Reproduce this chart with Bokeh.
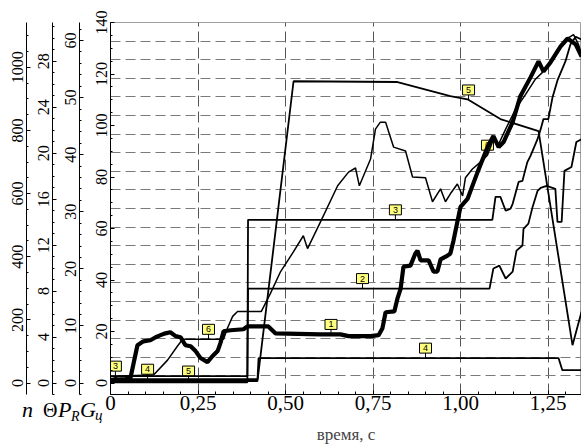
import numpy as np
from bokeh.plotting import figure
from bokeh.layouts import column
from bokeh.models import (Range1d, LinearAxis, FixedTicker, SingleIntervalTicker, Div)
from bokeh.embed import file_html
from bokeh.resources import INLINE

# ---------------- data ----------------
x_ticks = [0, 0.25, 0.5, 0.75, 1.0, 1.25]
x_tick_labels = ["0", "0,25", "0,50", "0,75", "1,00", "1,25"]
x_title = "время, с"

# series 1 (thick)
s1_t = [0, 0.043, 0.057, 0.066, 0.077, 0.094, 0.114, 0.129, 0.143, 0.157, 0.171, 0.186, 0.2, 0.214,
        0.229, 0.243, 0.257, 0.277, 0.291, 0.306, 0.314, 0.323, 0.343, 0.38, 0.391, 0.451, 0.471, 0.6,
        0.657, 0.68, 0.743, 0.766, 0.777, 0.786, 0.811, 0.82, 0.829, 0.837, 0.857, 0.871, 0.877, 0.886,
        0.909, 0.923, 0.934, 0.943, 0.963, 0.971, 0.98, 0.991, 1.0, 1.02, 1.049, 1.077, 1.094, 1.109,
        1.123, 1.149, 1.171, 1.2, 1.223, 1.237, 1.257, 1.286, 1.306, 1.329, 1.346]
s1_v = [1.2, 1.5, 1.9, 7.7, 14.7, 16.2, 16.6, 17.8, 18.6, 19.3, 19.7, 18.2, 17.8, 14.7,
        14.3, 12.4, 9.7, 8.1, 10.4, 12.4, 15.5, 20.1, 20.5, 20.9, 22.0, 22.0, 19.3, 18.9,
        18.9, 18.2, 18.2, 18.6, 21.3, 27.5, 27.8, 32.9, 36.7, 45.2, 45.6, 50.3, 51.4, 47.6,
        47.6, 43.3, 43.3, 48.0, 49.5, 50.3, 55.3, 62.6, 68.4, 71.5, 82.0, 91.6, 95.9, 91.6,
        93.6, 101.3, 111.4, 118.7, 124.9, 121.0, 124.5, 130.7, 133.8, 131.5, 126.8]

# series 2
s2_t = [0, 0.391, 0.393, 1.083, 1.094, 1.111, 1.129, 1.149, 1.16, 1.177, 1.18, 1.194, 1.206, 1.22,
        1.229, 1.246, 1.271, 1.277, 1.289, 1.297, 1.317, 1.331, 1.346]
s2_v = [0.3, 0.3, 36.7, 36.7, 44.5, 45.6, 40.6, 43.3, 51.4, 53.4, 59.9, 61.9, 68.4, 74.6,
        75.8, 76.6, 75.4, 62.6, 62.6, 82.4, 83.9, 93.6, 94.7]

# series 3
s3_t = [0, 0.391, 0.393, 1.091, 1.1, 1.114, 1.129, 1.143, 1.149, 1.166, 1.177, 1.191, 1.2, 1.22,
        1.229, 1.237, 1.251, 1.263, 1.277, 1.3, 1.314, 1.329, 1.346]
s3_v = [2.7, 2.7, 63.4, 63.4, 72.3, 72.3, 66.9, 67.7, 69.6, 78.1, 78.5, 85.8, 88.2, 94.7,
        98.6, 102.5, 102.5, 111.0, 117.5, 125.0, 131.5, 134.5, 133.4]

# series 4
s4_t = [0, 0.42, 0.423, 1.28, 1.291, 1.346]
s4_v = [1.5, 1.5, 9.7, 9.7, 5.0, 5.0]

# series 5
s5_t = [0, 0.42, 0.523, 0.82, 0.971, 1.02, 1.114, 1.223, 1.32, 1.346]
s5_v = [0.8, 0.8, 117.2, 116.9, 111.4, 110.2, 102.5, 97.8, 14.7, 27.8]

# series 6
s6_t = [0, 0.023, 0.123, 0.163, 0.191, 0.206, 0.323, 0.334, 0.349, 0.363, 0.431, 0.457, 0.486,
        0.523, 0.551, 0.563, 0.6, 0.649, 0.68, 0.7, 0.711, 0.743, 0.757, 0.771, 0.786, 0.809,
        0.843, 0.863, 0.9, 0.92, 0.943, 0.957, 0.971, 0.991, 1.006, 1.014, 1.034, 1.057, 1.077,
        1.094, 1.109, 1.129, 1.157, 1.186, 1.214, 1.243, 1.271, 1.3, 1.323, 1.337, 1.346]
s6_v = [1.2, 2.7, 3.1, 8.9, 14.3, 17.0, 17.0, 21.3, 25.9, 27.8, 27.8, 34.8, 43.3,
        51.0, 57.2, 52.2, 62.6, 76.6, 81.9, 83.5, 76.6, 87.0, 98.6, 101.3, 101.3, 91.6,
        90.1, 80.0, 79.7, 70.4, 75.4, 70.4, 73.5, 77.3, 72.7, 79.7, 83.1, 85.8, 88.5,
        94.7, 92.8, 98.6, 106.3, 112.1, 118.0, 121.8, 127.6, 133.4, 135.3, 131.5, 127.6]

series_t = [s1_t, s2_t, s3_t, s4_t, s5_t, s6_t]
series_v = [s1_v, s2_v, s3_v, s4_v, s5_v, s6_v]
series_names = ["1", "2", "3", "4", "5", "6"]

label_series = [0, 1, 2, 2, 3, 3, 4, 4, 5, 5]
label_times = [0.63, 0.72, 0.014, 0.814, 0.106, 0.9, 0.223, 1.023, 0.28, 1.077]

# ---------------- figure ----------------
X_END = 1.3457
G_START, G_END = -4.45, 140.01
W, H = 581, 446
TOP, LEFT, BOTTOM = 22, 110, 50
FRAME_H = H - TOP - BOTTOM

p = figure(width=W, height=H,
           x_range=Range1d(0, X_END), y_range=Range1d(G_START, G_END),
           output_backend="svg", toolbar_location=None,
           min_border_top=TOP, min_border_right=0, min_border_left=LEFT, min_border_bottom=BOTTOM)
p.background_fill_color = "white"
p.border_fill_color = "white"
p.outline_line_color = "#a0a0a0"

p.extra_y_ranges = {
    "pr": Range1d(-2.0, 63.15),
    "th": Range1d(-1.0, 31.38),
    "n": Range1d(-36.3, 1142),
}

SERIF = "Liberation Serif"

def style_axis(ax, fs="16px"):
    ax.major_label_text_font = SERIF
    ax.major_label_text_font_size = fs
    ax.major_label_text_color = "black"
    ax.axis_line_color = "black"
    ax.major_tick_line_color = "black"
    ax.minor_tick_line_color = "black"

def style_left(ax, gap):
    style_axis(ax)
    ax.major_label_orientation = "vertical"
    ax.major_tick_out = 0
    ax.major_tick_in = 4
    ax.minor_tick_out = 0
    ax.minor_tick_in = 2
    ax.major_label_standoff = 3
    if gap is not None:
        ax.axis_label = "\u00a0"
        ax.axis_label_text_font_size = "2px"
        ax.axis_label_standoff = gap

gax = p.yaxis[0]
gax.ticker = SingleIntervalTicker(interval=20, num_minor_ticks=4)
style_left(gax, 9)

for name, interval, nminor, gap in [("pr", 10, 5, 5), ("th", 4, 4, 4), ("n", 200, 4, None)]:
    ax = LinearAxis(y_range_name=name, ticker=SingleIntervalTicker(interval=interval, num_minor_ticks=nminor))
    style_left(ax, gap)
    p.add_layout(ax, "left")

xax = p.xaxis[0]
xax.ticker = SingleIntervalTicker(interval=0.25, num_minor_ticks=5)
xax.major_label_overrides = {t: l for t, l in zip(x_ticks, x_tick_labels)}
style_axis(xax, "21px")
xax.major_tick_out = 0
xax.major_tick_in = 4
xax.minor_tick_out = 0
xax.minor_tick_in = 3
xax.major_label_standoff = 1
xax.axis_label = x_title
xax.axis_label_text_font = SERIF
xax.axis_label_text_font_style = "normal"
xax.axis_label_text_font_size = "17px"
xax.axis_label_standoff = 12

p.xgrid.ticker = FixedTicker(ticks=x_ticks[1:])
p.xgrid.grid_line_color = "#555555"
p.xgrid.grid_line_dash = "11 5"
p.xgrid.grid_line_width = 1
p.ygrid.ticker = FixedTicker(ticks=list(np.linspace(G_START, G_END, 21)[1:-1]))
p.ygrid.grid_line_color = "#7a7a7a"
p.ygrid.grid_line_dash = "10 5"
p.ygrid.grid_line_width = 1

# label boxes (drawn beneath lines)
ppu = FRAME_H / (G_END - G_START)
lt = np.array(label_times)
lv = np.array([np.interp(t, series_t[s], series_v[s]) for s, t in zip(label_series, label_times)])
p.segment(x0=lt, y0=lv, x1=lt, y1=lv + 6 / ppu, line_color="black", line_width=1)
p.rect(x=lt, y=lv + 10 / ppu, width=12, height=10, width_units="screen", height_units="screen",
       fill_color="#ffff80", line_color="black", line_width=1)
p.text(x=lt, y=lv + 10 / ppu, text=[series_names[s] for s in label_series],
       text_align="center", text_baseline="middle", text_font_size="9px",
       text_font={"value": "Liberation Sans"}, text_color="black")

widths = [4.2, 1.8, 1.8, 1.8, 1.8, 1.5]
for t, v, w in zip(series_t, series_v, widths):
    p.line(t, v, line_color="black", line_width=w)

# bottom-left axis symbols, as HTML text overlapping the plot's bottom-left corner
sym = [("n", 22, 3, 22, "italic"), ("\u0398", 43, 4, 20, "normal"), ("P", 58, 3, 22, "italic"),
       ("R", 71, 14, 14, "italic"), ("G", 80, 3, 22, "italic"), ("\u0446", 95, 12, 15, "italic")]
spans = "".join(
    f'<span style="position:absolute;left:{x}px;top:{y}px;font-size:{fs}px;line-height:{fs}px;'
    f'font-style:{st};white-space:nowrap">{txt}</span>' for txt, x, y, fs, st in sym)
DIV_W = 104
html = (f'<div style="position:relative;width:{DIV_W}px;height:40px;'
        f"font-family:'Liberation Serif',serif;color:black\">{spans}</div>")
div = Div(text=html, width=DIV_W, height=40, margin=(-BOTTOM, 0, 0, 0))

layout = column(p, div, spacing=0)
open("out.html", "w").write(file_html(layout, INLINE))
